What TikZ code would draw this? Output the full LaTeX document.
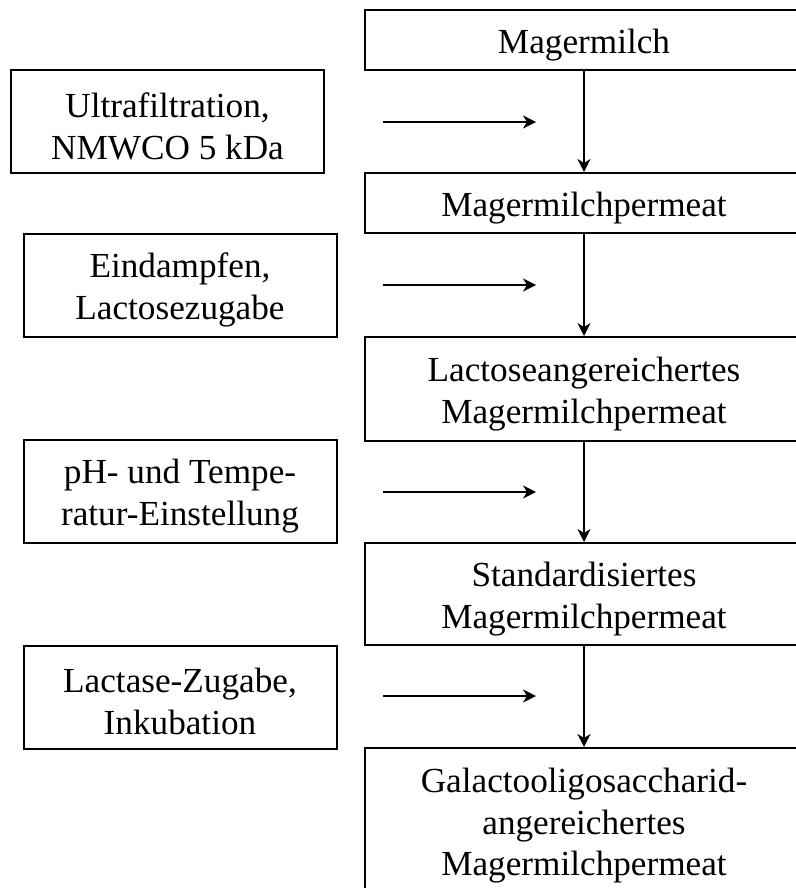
\documentclass[tikz,border=0pt]{standalone}
\usepackage{fontspec}
\setmainfont{Liberation Serif}
\usepackage{tikz}
\usetikzlibrary{arrows.meta}
\tikzset{>={Stealth[length=6.5pt, width=6.5pt, inset=2pt]}}
\tikzset{
    produkt/.style={draw, line width=1pt, text width=219pt, inner sep=0pt, align=flush center, font=\fontsize{17.6pt}{20.85pt}\selectfont, execute at begin node={\rule{0pt}{17pt}}},
    schritt/.style={draw, line width=1pt, text width=156.5pt, minimum height=51.5pt, inner sep=0pt, align=flush center, font=\fontsize{17.6pt}{20.85pt}\selectfont, execute at begin node={\rule{0pt}{17pt}}},
    pfeil/.style={->, line width=0.8pt}
}

\begin{document}
\begin{tikzpicture}[x=0.5pt, y=-0.5pt]
            \useasboundingbox (0,0) rectangle (796,888);
            \clip (0,0) rectangle (796,888);
            \node[produkt, minimum height=30pt] (mm) at (584,40) {Magermilch};
            \node[produkt, minimum height=30pt] (mmp) at (584,203) {Magermilchpermeat};
            \node[produkt, minimum height=52pt] (lmp) at (584,389) {Lactoseangereichertes\\Magermilchpermeat};
            \node[produkt, minimum height=51pt] (smp) at (584,594) {Standardisiertes\\Magermilchpermeat};
            \node[produkt, minimum height=73pt] (gmp) at (584,821) {Galactooligosaccharid-\\angereichertes\\Magermilchpermeat};
            \node[schritt] (uf) at (167.5,121.5) {Ultrafiltration,\\NMWCO 5 kDa};
            \node[schritt] (ed) at (180,285) {Eindampfen,\\Lactosezugabe};
            \node[schritt] (ph) at (180,491.5) {pH- und Tempe-\\ratur-Einstellung};
            \node[schritt] (lz) at (180,697) {Lactase-Zugabe,\\Inkubation};
            \draw[pfeil] (mm) to (mmp);
            \draw[pfeil] (mmp) to (lmp);
            \draw[pfeil] (lmp) to (smp);
            \draw[pfeil] (smp) to (gmp);
            \coordinate (uf1) at (383,122);
            \coordinate (uf2) at (536,122);
            \coordinate (ed1) at (383,285);
            \coordinate (ed2) at (536,285);
            \coordinate (ph1) at (383,492);
            \coordinate (ph2) at (536,492);
            \coordinate (lz1) at (383,696);
            \coordinate (lz2) at (536,696);
            \draw[pfeil] (uf1) to (uf2);
            \draw[pfeil] (ed1) to (ed2);
            \draw[pfeil] (ph1) to (ph2);
            \draw[pfeil] (lz1) to (lz2);
        \end{tikzpicture}
\end{document}
